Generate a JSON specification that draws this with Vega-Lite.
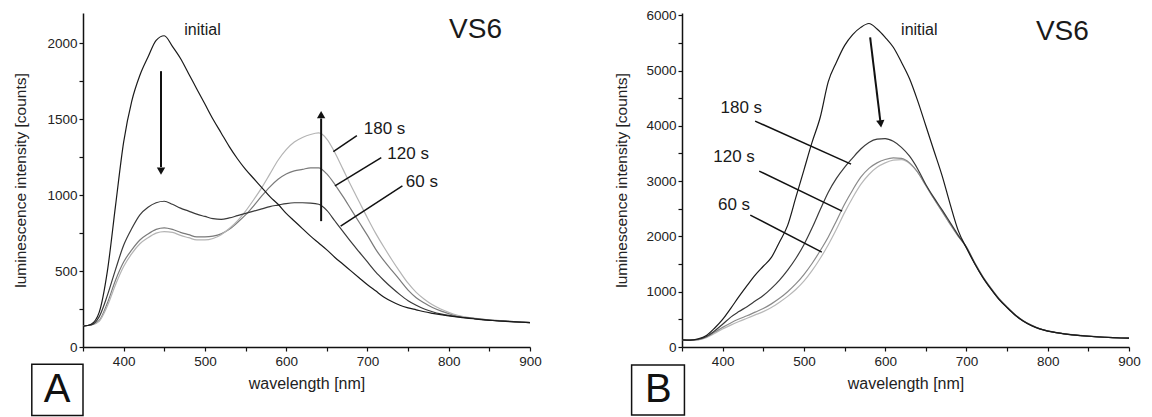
{
"$schema":"https://vega.github.io/schema/vega-lite/v6.json",
"padding":{"left":13,"top":8,"right":2,"bottom":2},
"background":"white",
"spacing":72,
"resolve":{"scale":{"color":"independent","x":"independent","y":"independent"}},
"config":{"view":{"stroke":null},"font":"Liberation Sans",
"axis":{"domainColor":"#111","domainWidth":1.5,"tickColor":"#111","tickWidth":1.2,"tickSize":4,"grid":false,"labelFont":"Liberation Sans","labelFontSize":13.5,"labelColor":"#222","titleFont":"Liberation Sans","titleFontSize":16,"titleFontWeight":"normal","titleColor":"#222","labelOverlap":false,"labelFlush":false}},
"datasets":{
"A":[
{"s":"120 s","x":350,"y":140},{"s":"120 s","x":360,"y":145},{"s":"120 s","x":370,"y":175},{"s":"120 s","x":380,"y":290},{"s":"120 s","x":390,"y":440},{"s":"120 s","x":400,"y":560},{"s":"120 s","x":410,"y":640},{"s":"120 s","x":420,"y":705},{"s":"120 s","x":430,"y":745},{"s":"120 s","x":440,"y":775},{"s":"120 s","x":450,"y":785},{"s":"120 s","x":460,"y":775},{"s":"120 s","x":470,"y":755},{"s":"120 s","x":480,"y":740},{"s":"120 s","x":490,"y":725},{"s":"120 s","x":500,"y":725},{"s":"120 s","x":510,"y":730},{"s":"120 s","x":520,"y":745},{"s":"120 s","x":530,"y":775},{"s":"120 s","x":540,"y":820},{"s":"120 s","x":550,"y":870},{"s":"120 s","x":560,"y":930},{"s":"120 s","x":570,"y":995},{"s":"120 s","x":580,"y":1055},{"s":"120 s","x":590,"y":1105},{"s":"120 s","x":600,"y":1140},{"s":"120 s","x":610,"y":1160},{"s":"120 s","x":620,"y":1170},{"s":"120 s","x":630,"y":1180},{"s":"120 s","x":640,"y":1180},{"s":"120 s","x":650,"y":1140},{"s":"120 s","x":660,"y":1070},{"s":"120 s","x":670,"y":990},{"s":"120 s","x":680,"y":905},{"s":"120 s","x":690,"y":820},{"s":"120 s","x":700,"y":735},{"s":"120 s","x":710,"y":645},{"s":"120 s","x":720,"y":570},{"s":"120 s","x":730,"y":505},{"s":"120 s","x":740,"y":440},{"s":"120 s","x":750,"y":375},{"s":"120 s","x":760,"y":325},{"s":"120 s","x":770,"y":290},{"s":"120 s","x":780,"y":260},{"s":"120 s","x":790,"y":238},{"s":"120 s","x":800,"y":220},{"s":"120 s","x":810,"y":205},{"s":"120 s","x":820,"y":196},{"s":"120 s","x":830,"y":189},{"s":"120 s","x":840,"y":183},{"s":"120 s","x":850,"y":178},{"s":"120 s","x":860,"y":174},{"s":"120 s","x":870,"y":170},{"s":"120 s","x":880,"y":167},{"s":"120 s","x":890,"y":164},{"s":"120 s","x":900,"y":161},
{"s":"180 s","x":350,"y":140},{"s":"180 s","x":360,"y":145},{"s":"180 s","x":370,"y":170},{"s":"180 s","x":380,"y":270},{"s":"180 s","x":390,"y":410},{"s":"180 s","x":400,"y":530},{"s":"180 s","x":410,"y":615},{"s":"180 s","x":420,"y":680},{"s":"180 s","x":430,"y":720},{"s":"180 s","x":440,"y":750},{"s":"180 s","x":450,"y":760},{"s":"180 s","x":460,"y":755},{"s":"180 s","x":470,"y":735},{"s":"180 s","x":480,"y":720},{"s":"180 s","x":490,"y":705},{"s":"180 s","x":500,"y":705},{"s":"180 s","x":510,"y":715},{"s":"180 s","x":520,"y":740},{"s":"180 s","x":530,"y":780},{"s":"180 s","x":540,"y":830},{"s":"180 s","x":550,"y":895},{"s":"180 s","x":560,"y":970},{"s":"180 s","x":570,"y":1050},{"s":"180 s","x":580,"y":1140},{"s":"180 s","x":590,"y":1230},{"s":"180 s","x":600,"y":1300},{"s":"180 s","x":610,"y":1350},{"s":"180 s","x":620,"y":1380},{"s":"180 s","x":630,"y":1400},{"s":"180 s","x":640,"y":1410},{"s":"180 s","x":650,"y":1370},{"s":"180 s","x":660,"y":1280},{"s":"180 s","x":670,"y":1170},{"s":"180 s","x":680,"y":1060},{"s":"180 s","x":690,"y":955},{"s":"180 s","x":700,"y":850},{"s":"180 s","x":710,"y":750},{"s":"180 s","x":720,"y":660},{"s":"180 s","x":730,"y":575},{"s":"180 s","x":740,"y":495},{"s":"180 s","x":750,"y":420},{"s":"180 s","x":760,"y":360},{"s":"180 s","x":770,"y":315},{"s":"180 s","x":780,"y":278},{"s":"180 s","x":790,"y":250},{"s":"180 s","x":800,"y":228},{"s":"180 s","x":810,"y":210},{"s":"180 s","x":820,"y":199},{"s":"180 s","x":830,"y":190},{"s":"180 s","x":840,"y":184},{"s":"180 s","x":850,"y":179},{"s":"180 s","x":860,"y":175},{"s":"180 s","x":870,"y":171},{"s":"180 s","x":880,"y":168},{"s":"180 s","x":890,"y":165},{"s":"180 s","x":900,"y":162},
{"s":"60 s","x":350,"y":140},{"s":"60 s","x":360,"y":145},{"s":"60 s","x":370,"y":200},{"s":"60 s","x":380,"y":340},{"s":"60 s","x":390,"y":510},{"s":"60 s","x":400,"y":670},{"s":"60 s","x":410,"y":780},{"s":"60 s","x":420,"y":870},{"s":"60 s","x":430,"y":920},{"s":"60 s","x":440,"y":950},{"s":"60 s","x":450,"y":960},{"s":"60 s","x":460,"y":940},{"s":"60 s","x":470,"y":915},{"s":"60 s","x":480,"y":895},{"s":"60 s","x":490,"y":875},{"s":"60 s","x":500,"y":860},{"s":"60 s","x":510,"y":845},{"s":"60 s","x":520,"y":840},{"s":"60 s","x":530,"y":850},{"s":"60 s","x":540,"y":865},{"s":"60 s","x":550,"y":880},{"s":"60 s","x":560,"y":895},{"s":"60 s","x":570,"y":910},{"s":"60 s","x":580,"y":925},{"s":"60 s","x":590,"y":935},{"s":"60 s","x":600,"y":945},{"s":"60 s","x":610,"y":950},{"s":"60 s","x":620,"y":950},{"s":"60 s","x":630,"y":948},{"s":"60 s","x":640,"y":940},{"s":"60 s","x":650,"y":900},{"s":"60 s","x":660,"y":830},{"s":"60 s","x":670,"y":760},{"s":"60 s","x":680,"y":690},{"s":"60 s","x":690,"y":625},{"s":"60 s","x":700,"y":560},{"s":"60 s","x":710,"y":495},{"s":"60 s","x":720,"y":440},{"s":"60 s","x":730,"y":390},{"s":"60 s","x":740,"y":345},{"s":"60 s","x":750,"y":305},{"s":"60 s","x":760,"y":275},{"s":"60 s","x":770,"y":250},{"s":"60 s","x":780,"y":232},{"s":"60 s","x":790,"y":218},{"s":"60 s","x":800,"y":208},{"s":"60 s","x":810,"y":200},{"s":"60 s","x":820,"y":194},{"s":"60 s","x":830,"y":188},{"s":"60 s","x":840,"y":182},{"s":"60 s","x":850,"y":177},{"s":"60 s","x":860,"y":173},{"s":"60 s","x":870,"y":170},{"s":"60 s","x":880,"y":167},{"s":"60 s","x":890,"y":164},{"s":"60 s","x":900,"y":161},
{"s":"initial","x":350,"y":135},{"s":"initial","x":360,"y":150},{"s":"initial","x":370,"y":230},{"s":"initial","x":380,"y":500},{"s":"initial","x":390,"y":930},{"s":"initial","x":400,"y":1350},{"s":"initial","x":410,"y":1620},{"s":"initial","x":420,"y":1790},{"s":"initial","x":430,"y":1910},{"s":"initial","x":440,"y":2020},{"s":"initial","x":450,"y":2050},{"s":"initial","x":460,"y":1980},{"s":"initial","x":470,"y":1900},{"s":"initial","x":480,"y":1800},{"s":"initial","x":490,"y":1700},{"s":"initial","x":500,"y":1600},{"s":"initial","x":510,"y":1500},{"s":"initial","x":520,"y":1410},{"s":"initial","x":530,"y":1320},{"s":"initial","x":540,"y":1240},{"s":"initial","x":550,"y":1170},{"s":"initial","x":560,"y":1110},{"s":"initial","x":570,"y":1050},{"s":"initial","x":580,"y":990},{"s":"initial","x":590,"y":940},{"s":"initial","x":600,"y":880},{"s":"initial","x":610,"y":830},{"s":"initial","x":620,"y":780},{"s":"initial","x":630,"y":730},{"s":"initial","x":640,"y":685},{"s":"initial","x":650,"y":640},{"s":"initial","x":660,"y":590},{"s":"initial","x":670,"y":545},{"s":"initial","x":680,"y":500},{"s":"initial","x":690,"y":455},{"s":"initial","x":700,"y":410},{"s":"initial","x":710,"y":370},{"s":"initial","x":720,"y":330},{"s":"initial","x":730,"y":300},{"s":"initial","x":740,"y":275},{"s":"initial","x":750,"y":258},{"s":"initial","x":760,"y":245},{"s":"initial","x":770,"y":232},{"s":"initial","x":780,"y":222},{"s":"initial","x":790,"y":213},{"s":"initial","x":800,"y":205},{"s":"initial","x":810,"y":198},{"s":"initial","x":820,"y":192},{"s":"initial","x":830,"y":186},{"s":"initial","x":840,"y":180},{"s":"initial","x":850,"y":176},{"s":"initial","x":860,"y":172},{"s":"initial","x":870,"y":169},{"s":"initial","x":880,"y":166},{"s":"initial","x":890,"y":163},{"s":"initial","x":900,"y":160}
],
"B":[
{"s":"60 s","x":350,"y":130},{"s":"60 s","x":360,"y":125},{"s":"60 s","x":370,"y":130},{"s":"60 s","x":380,"y":170},{"s":"60 s","x":390,"y":245},{"s":"60 s","x":400,"y":325},{"s":"60 s","x":410,"y":395},{"s":"60 s","x":420,"y":460},{"s":"60 s","x":430,"y":520},{"s":"60 s","x":440,"y":580},{"s":"60 s","x":450,"y":640},{"s":"60 s","x":460,"y":715},{"s":"60 s","x":470,"y":810},{"s":"60 s","x":480,"y":915},{"s":"60 s","x":490,"y":1040},{"s":"60 s","x":500,"y":1190},{"s":"60 s","x":510,"y":1380},{"s":"60 s","x":520,"y":1600},{"s":"60 s","x":530,"y":1850},{"s":"60 s","x":540,"y":2130},{"s":"60 s","x":550,"y":2430},{"s":"60 s","x":560,"y":2700},{"s":"60 s","x":570,"y":2940},{"s":"60 s","x":580,"y":3120},{"s":"60 s","x":590,"y":3250},{"s":"60 s","x":600,"y":3330},{"s":"60 s","x":610,"y":3380},{"s":"60 s","x":620,"y":3390},{"s":"60 s","x":630,"y":3320},{"s":"60 s","x":640,"y":3160},{"s":"60 s","x":650,"y":2920},{"s":"60 s","x":660,"y":2680},{"s":"60 s","x":670,"y":2450},{"s":"60 s","x":680,"y":2220},{"s":"60 s","x":690,"y":2000},{"s":"60 s","x":700,"y":1800},{"s":"60 s","x":710,"y":1520},{"s":"60 s","x":720,"y":1270},{"s":"60 s","x":730,"y":1060},{"s":"60 s","x":740,"y":870},{"s":"60 s","x":750,"y":720},{"s":"60 s","x":760,"y":580},{"s":"60 s","x":770,"y":470},{"s":"60 s","x":780,"y":390},{"s":"60 s","x":790,"y":330},{"s":"60 s","x":800,"y":290},{"s":"60 s","x":810,"y":262},{"s":"60 s","x":820,"y":240},{"s":"60 s","x":830,"y":222},{"s":"60 s","x":840,"y":208},{"s":"60 s","x":850,"y":196},{"s":"60 s","x":860,"y":186},{"s":"60 s","x":870,"y":177},{"s":"60 s","x":880,"y":170},{"s":"60 s","x":890,"y":164},{"s":"60 s","x":900,"y":160},
{"s":"120 s","x":350,"y":130},{"s":"120 s","x":360,"y":125},{"s":"120 s","x":370,"y":135},{"s":"120 s","x":380,"y":180},{"s":"120 s","x":390,"y":265},{"s":"120 s","x":400,"y":355},{"s":"120 s","x":410,"y":435},{"s":"120 s","x":420,"y":505},{"s":"120 s","x":430,"y":565},{"s":"120 s","x":440,"y":630},{"s":"120 s","x":450,"y":695},{"s":"120 s","x":460,"y":780},{"s":"120 s","x":470,"y":880},{"s":"120 s","x":480,"y":1000},{"s":"120 s","x":490,"y":1140},{"s":"120 s","x":500,"y":1310},{"s":"120 s","x":510,"y":1510},{"s":"120 s","x":520,"y":1740},{"s":"120 s","x":530,"y":1990},{"s":"120 s","x":540,"y":2280},{"s":"120 s","x":550,"y":2580},{"s":"120 s","x":560,"y":2840},{"s":"120 s","x":570,"y":3070},{"s":"120 s","x":580,"y":3230},{"s":"120 s","x":590,"y":3330},{"s":"120 s","x":600,"y":3390},{"s":"120 s","x":610,"y":3420},{"s":"120 s","x":620,"y":3410},{"s":"120 s","x":630,"y":3330},{"s":"120 s","x":640,"y":3160},{"s":"120 s","x":650,"y":2920},{"s":"120 s","x":660,"y":2680},{"s":"120 s","x":670,"y":2450},{"s":"120 s","x":680,"y":2220},{"s":"120 s","x":690,"y":2000},{"s":"120 s","x":700,"y":1810},{"s":"120 s","x":710,"y":1530},{"s":"120 s","x":720,"y":1280},{"s":"120 s","x":730,"y":1070},{"s":"120 s","x":740,"y":880},{"s":"120 s","x":750,"y":725},{"s":"120 s","x":760,"y":585},{"s":"120 s","x":770,"y":475},{"s":"120 s","x":780,"y":395},{"s":"120 s","x":790,"y":335},{"s":"120 s","x":800,"y":292},{"s":"120 s","x":810,"y":264},{"s":"120 s","x":820,"y":241},{"s":"120 s","x":830,"y":223},{"s":"120 s","x":840,"y":209},{"s":"120 s","x":850,"y":197},{"s":"120 s","x":860,"y":187},{"s":"120 s","x":870,"y":178},{"s":"120 s","x":880,"y":171},{"s":"120 s","x":890,"y":165},{"s":"120 s","x":900,"y":161},
{"s":"180 s","x":350,"y":130},{"s":"180 s","x":360,"y":125},{"s":"180 s","x":370,"y":140},{"s":"180 s","x":380,"y":190},{"s":"180 s","x":390,"y":290},{"s":"180 s","x":400,"y":410},{"s":"180 s","x":410,"y":540},{"s":"180 s","x":420,"y":640},{"s":"180 s","x":430,"y":730},{"s":"180 s","x":440,"y":830},{"s":"180 s","x":450,"y":930},{"s":"180 s","x":460,"y":1060},{"s":"180 s","x":470,"y":1210},{"s":"180 s","x":480,"y":1390},{"s":"180 s","x":490,"y":1600},{"s":"180 s","x":500,"y":1850},{"s":"180 s","x":510,"y":2150},{"s":"180 s","x":520,"y":2480},{"s":"180 s","x":530,"y":2800},{"s":"180 s","x":540,"y":3050},{"s":"180 s","x":550,"y":3250},{"s":"180 s","x":560,"y":3420},{"s":"180 s","x":570,"y":3580},{"s":"180 s","x":580,"y":3700},{"s":"180 s","x":590,"y":3760},{"s":"180 s","x":600,"y":3770},{"s":"180 s","x":610,"y":3720},{"s":"180 s","x":620,"y":3610},{"s":"180 s","x":630,"y":3450},{"s":"180 s","x":640,"y":3220},{"s":"180 s","x":650,"y":2940},{"s":"180 s","x":660,"y":2700},{"s":"180 s","x":670,"y":2480},{"s":"180 s","x":680,"y":2250},{"s":"180 s","x":690,"y":2020},{"s":"180 s","x":700,"y":1800},{"s":"180 s","x":710,"y":1515},{"s":"180 s","x":720,"y":1265},{"s":"180 s","x":730,"y":1055},{"s":"180 s","x":740,"y":865},{"s":"180 s","x":750,"y":715},{"s":"180 s","x":760,"y":578},{"s":"180 s","x":770,"y":468},{"s":"180 s","x":780,"y":388},{"s":"180 s","x":790,"y":328},{"s":"180 s","x":800,"y":288},{"s":"180 s","x":810,"y":261},{"s":"180 s","x":820,"y":239},{"s":"180 s","x":830,"y":221},{"s":"180 s","x":840,"y":207},{"s":"180 s","x":850,"y":195},{"s":"180 s","x":860,"y":185},{"s":"180 s","x":870,"y":176},{"s":"180 s","x":880,"y":169},{"s":"180 s","x":890,"y":163},{"s":"180 s","x":900,"y":159},
{"s":"initial","x":350,"y":130},{"s":"initial","x":360,"y":125},{"s":"initial","x":370,"y":150},{"s":"initial","x":380,"y":210},{"s":"initial","x":390,"y":340},{"s":"initial","x":400,"y":500},{"s":"initial","x":410,"y":700},{"s":"initial","x":420,"y":910},{"s":"initial","x":430,"y":1110},{"s":"initial","x":440,"y":1300},{"s":"initial","x":450,"y":1460},{"s":"initial","x":460,"y":1620},{"s":"initial","x":470,"y":1900},{"s":"initial","x":480,"y":2200},{"s":"initial","x":490,"y":2700},{"s":"initial","x":500,"y":3200},{"s":"initial","x":510,"y":3700},{"s":"initial","x":520,"y":4150},{"s":"initial","x":530,"y":4800},{"s":"initial","x":540,"y":5150},{"s":"initial","x":550,"y":5450},{"s":"initial","x":560,"y":5650},{"s":"initial","x":570,"y":5780},{"s":"initial","x":580,"y":5850},{"s":"initial","x":590,"y":5750},{"s":"initial","x":600,"y":5600},{"s":"initial","x":610,"y":5420},{"s":"initial","x":620,"y":5150},{"s":"initial","x":630,"y":4850},{"s":"initial","x":640,"y":4450},{"s":"initial","x":650,"y":4000},{"s":"initial","x":660,"y":3550},{"s":"initial","x":670,"y":3100},{"s":"initial","x":680,"y":2580},{"s":"initial","x":690,"y":2100},{"s":"initial","x":700,"y":1790},{"s":"initial","x":710,"y":1510},{"s":"initial","x":720,"y":1260},{"s":"initial","x":730,"y":1050},{"s":"initial","x":740,"y":862},{"s":"initial","x":750,"y":712},{"s":"initial","x":760,"y":575},{"s":"initial","x":770,"y":466},{"s":"initial","x":780,"y":386},{"s":"initial","x":790,"y":327},{"s":"initial","x":800,"y":287},{"s":"initial","x":810,"y":260},{"s":"initial","x":820,"y":238},{"s":"initial","x":830,"y":220},{"s":"initial","x":840,"y":206},{"s":"initial","x":850,"y":194},{"s":"initial","x":860,"y":184},{"s":"initial","x":870,"y":176},{"s":"initial","x":880,"y":169},{"s":"initial","x":890,"y":163},{"s":"initial","x":900,"y":159}
]
},
"hconcat":[
{"width":447,"height":334,
"encoding":{
"x":{"field":"x","type":"quantitative","scale":{"domain":[350,900],"nice":false,"zero":false},
"axis":{"values":[350,400,450,500,550,600,650,700,750,800,850,900],"labelExpr":"datum.value % 100 === 0 ? datum.label : ''","format":"d","title":"wavelength [nm]","labelPadding":3,"titlePadding":8}},
"y":{"field":"y","type":"quantitative","scale":{"domain":[0,2200],"nice":false,"zero":false},
"axis":{"values":[0,250,500,750,1000,1250,1500,1750,2000],"labelExpr":"datum.value % 500 === 0 ? datum.label : ''","format":"d","title":"luminescence intensity [counts]","titleFontSize":15.5,"labelPadding":2,"titlePadding":18}}},
"layer":[
{"data":{"name":"A"},"mark":{"type":"line","strokeWidth":1.2,"interpolate":"monotone"},
"encoding":{"color":{"field":"s","type":"nominal","scale":{"domain":["initial","60 s","120 s","180 s"],"range":["#1a1a1a","#3a3a3a","#7a7a7a","#b4b4b4"]},"legend":null}}},
{"data":{"values":[{"x":658,"y":1287,"x2":687,"y2":1393},{"x":660,"y":1061,"x2":717,"y2":1247},{"x":667,"y":796,"x2":743,"y2":1061}]},
"mark":{"type":"rule","strokeWidth":1.5,"color":"#111"},"encoding":{"x2":{"field":"x2"},"y2":{"field":"y2"}}},
{"data":{"values":[{"x":446,"y":1817,"x2":446,"y2":1185},{"x":643,"y":829,"x2":643,"y2":1505}]},
"mark":{"type":"rule","strokeWidth":2,"color":"#111"},"encoding":{"x2":{"field":"x2"},"y2":{"field":"y2"}}},
{"data":{"values":[{"x":446,"y":1158}]},"mark":{"type":"point","shape":"triangle-down","filled":true,"size":70,"color":"#111","opacity":1}},
{"data":{"values":[{"x":643,"y":1530}]},"mark":{"type":"point","shape":"triangle-up","filled":true,"size":70,"color":"#111","opacity":1}},
{"data":{"values":[{"t":"initial","x":497,"y":2089}]},"mark":{"type":"text","fontSize":16,"color":"#1a1a1a","baseline":"middle","align":"center"},"encoding":{"text":{"field":"t"}}},
{"data":{"values":[{"t":"180 s","x":721,"y":1439},{"t":"120 s","x":750,"y":1273},{"t":"60 s","x":767,"y":1088}]},"mark":{"type":"text","fontSize":17,"color":"#1a1a1a","baseline":"middle","align":"center"},"encoding":{"text":{"field":"t"}}},
{"data":{"values":[{"t":"VS6","x":833,"y":2089}]},"mark":{"type":"text","fontSize":28,"color":"#1a1a1a","baseline":"middle","align":"center"},"encoding":{"text":{"field":"t"}}},
{"data":{"values":[{"x":287,"x2":350,"y":-113,"y2":-451}]},"mark":{"type":"rect","fill":"white","stroke":"#111","strokeWidth":1.5},"encoding":{"x2":{"field":"x2"},"y2":{"field":"y2"}}},
{"data":{"values":[{"t":"A","x":318,"y":-285}]},"mark":{"type":"text","fontSize":40,"color":"#111","baseline":"middle","align":"center"},"encoding":{"text":{"field":"t"}}}
]},
{"width":447,"height":334,
"encoding":{
"x":{"field":"x","type":"quantitative","scale":{"domain":[350,900],"nice":false,"zero":false},
"axis":{"values":[350,400,450,500,550,600,650,700,750,800,850,900],"labelExpr":"datum.value % 100 === 0 ? datum.label : ''","format":"d","title":"wavelength [nm]","labelPadding":3,"titlePadding":8}},
"y":{"field":"y","type":"quantitative","scale":{"domain":[0,6040],"nice":false,"zero":false},
"axis":{"values":[0,500,1000,1500,2000,2500,3000,3500,4000,4500,5000,5500,6000],"labelExpr":"datum.value % 1000 === 0 ? datum.label : ''","format":"d","title":"luminescence intensity [counts]","titleFontSize":15.5,"labelPadding":2,"titlePadding":16}}},
"layer":[
{"data":{"name":"B"},"mark":{"type":"line","strokeWidth":1.2,"interpolate":"monotone"},
"encoding":{"color":{"field":"s","type":"nominal","scale":{"domain":["initial","180 s","120 s","60 s"],"range":["#1a1a1a","#3a3a3a","#8a8a8a","#b8b8b8"]},"legend":null}}},
{"data":{"values":[{"x":440,"y":4085,"x2":558,"y2":3307},{"x":445,"y":3181,"x2":547,"y2":2458},{"x":434,"y":2386,"x2":522,"y2":1717}]},
"mark":{"type":"rule","strokeWidth":1.5,"color":"#111"},"encoding":{"x2":{"field":"x2"},"y2":{"field":"y2"}}},
{"data":{"values":[{"x":581.5,"y":5600,"x2":594,"y2":4090}]},
"mark":{"type":"rule","strokeWidth":2,"color":"#111"},"encoding":{"x2":{"field":"x2"},"y2":{"field":"y2"}}},
{"data":{"values":[{"x":594.5,"y":4035}]},"mark":{"type":"point","shape":"triangle-down","filled":true,"size":70,"color":"#111","opacity":1,"angle":-7}},
{"data":{"values":[{"t":"initial","x":642,"y":5730}]},"mark":{"type":"text","fontSize":16,"color":"#1a1a1a","baseline":"middle","align":"center"},"encoding":{"text":{"field":"t"}}},
{"data":{"values":[{"t":"180 s","x":423,"y":4320},{"t":"120 s","x":414,"y":3434},{"t":"60 s","x":414,"y":2566}]},"mark":{"type":"text","fontSize":17,"color":"#1a1a1a","baseline":"middle","align":"center"},"encoding":{"text":{"field":"t"}}},
{"data":{"values":[{"t":"VS6","x":818,"y":5690}]},"mark":{"type":"text","fontSize":28,"color":"#1a1a1a","baseline":"middle","align":"center"},"encoding":{"text":{"field":"t"}}},
{"data":{"values":[{"x":288,"x2":353,"y":-325,"y2":-1229}]},"mark":{"type":"rect","fill":"white","stroke":"#111","strokeWidth":1.5},"encoding":{"x2":{"field":"x2"},"y2":{"field":"y2"}}},
{"data":{"values":[{"t":"B","x":321,"y":-777}]},"mark":{"type":"text","fontSize":40,"color":"#111","baseline":"middle","align":"center"},"encoding":{"text":{"field":"t"}}}
]}
]
}
